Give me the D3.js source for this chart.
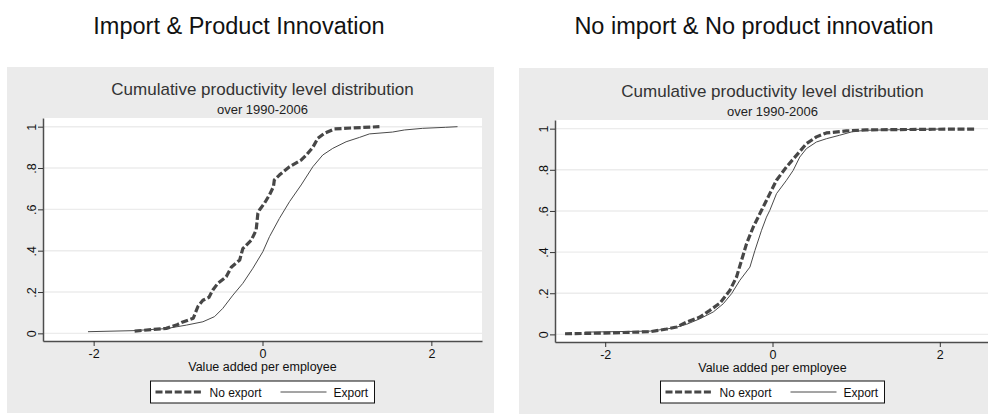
<!DOCTYPE html>
<html>
<head>
<meta charset="utf-8">
<script src="https://cdn.jsdelivr.net/npm/d3@7"></script>
<style>
  body { margin: 0; background: #ffffff; }
  text { font-family: "Liberation Sans", Arial, Helvetica, sans-serif; }
</style>
</head>
<body>
<svg id="chart" width="988" height="414"></svg>
<script>
// ---- data -------------------------------------------------------------
const groupTitles = ["Import & Product Innovation", "No import & No product innovation"];
const chartTitle = "Cumulative productivity level distribution";
const chartSubtitle = "over 1990-2006";
const xAxisTitle = "Value added per employee";
const seriesNames = ["No export", "Export"];
const xTicks = [-2, 0, 2];
const xTickLabels = ["-2", "0", "2"];
const yTicks = [0, 0.2, 0.4, 0.6, 0.8, 1];
const yTickLabels = ["0", ".2", ".4", ".6", ".8", "1"];

// cumulative share of firms at each (log) value added per employee
const importNoExport = [[-1.515,0.011],[-1.14,0.024],[-1.02,0.04],[-0.96,0.052],[-0.82,0.073],[-0.765,0.13],[-0.706,0.16],[-0.635,0.174],[-0.588,0.21],[-0.529,0.242],[-0.43,0.274],[-0.37,0.32],[-0.27,0.355],[-0.233,0.41],[-0.134,0.45],[-0.075,0.5],[-0.055,0.58],[-0.036,0.597],[0.024,0.63],[0.083,0.67],[0.13,0.71],[0.14,0.742],[0.2,0.766],[0.32,0.806],[0.46,0.839],[0.52,0.863],[0.596,0.9],[0.655,0.944],[0.734,0.968],[0.852,0.989],[1.07,0.994],[1.385,1.0]];
const importExport = [[-2.067,0.008],[-1.534,0.013],[-1.14,0.023],[-0.9,0.04],[-0.706,0.056],[-0.568,0.081],[-0.47,0.121],[-0.35,0.185],[-0.233,0.242],[-0.114,0.315],[0.004,0.395],[0.083,0.468],[0.2,0.556],[0.32,0.637],[0.458,0.718],[0.596,0.806],[0.714,0.863],[0.832,0.895],[0.99,0.927],[1.148,0.948],[1.266,0.965],[1.54,0.974],[1.68,0.984],[1.897,0.992],[2.17,0.997],[2.31,1.0]];
const noImportNoExport = [[-2.48,0.003],[-2.06,0.006],[-1.46,0.013],[-1.265,0.026],[-1.146,0.036],[-1.026,0.06],[-0.868,0.084],[-0.748,0.117],[-0.628,0.152],[-0.51,0.214],[-0.43,0.279],[-0.37,0.36],[-0.31,0.441],[-0.23,0.522],[-0.131,0.603],[-0.032,0.684],[0.048,0.749],[0.167,0.814],[0.286,0.87],[0.406,0.927],[0.525,0.96],[0.644,0.979],[0.883,0.989],[1.12,0.994],[1.917,0.997],[2.43,0.998]];
const noImportExport = [[-2.24,0.011],[-1.46,0.016],[-1.185,0.031],[-1.026,0.049],[-0.868,0.076],[-0.708,0.109],[-0.588,0.149],[-0.489,0.198],[-0.39,0.263],[-0.27,0.327],[-0.21,0.408],[-0.131,0.506],[-0.072,0.57],[-0.032,0.603],[0.048,0.684],[0.167,0.749],[0.247,0.797],[0.326,0.862],[0.406,0.903],[0.525,0.935],[0.644,0.951],[0.803,0.968],[0.962,0.986],[1.12,0.992],[1.52,0.995],[2.0,0.998]];

const panelSeries = [
  [importNoExport, importExport],
  [noImportNoExport, noImportExport]
];

// ---- layout -----------------------------------------------------------
const panels = [
  { titleX: 239, gx: 7,   gy: 67, gw: 487, gh: 346, px0: 43,  px1: 482, py0: 118, py1: 341 },
  { titleX: 754, gx: 519, gy: 68, gw: 487, gh: 346, px0: 555, px1: 990, py0: 120, py1: 342 }
];

const xDomain = [-2.6, 2.6];
const yDomain = [-0.037, 1.042];
const lineStyles = [
  { stroke: "#474747", width: 3.2, dash: "7,2.6" },
  { stroke: "#4a4a4a", width: 1, dash: null }
];

const svg = d3.select("#chart");
svg.append("rect").attr("width", 988).attr("height", 414).attr("fill", "#ffffff");

panels.forEach((p, i) => {
  const g = svg.append("g");

  // outer group heading
  g.append("text")
    .attr("x", p.titleX).attr("y", 34)
    .attr("text-anchor", "middle")
    .attr("font-size", 23.5)
    .attr("fill", "#111")
    .text(groupTitles[i]);

  // graph region
  g.append("rect")
    .attr("x", p.gx).attr("y", p.gy).attr("width", p.gw).attr("height", p.gh)
    .attr("fill", "#ebebeb");

  // plot region
  g.append("rect")
    .attr("x", p.px0).attr("y", p.py0)
    .attr("width", p.px1 - p.px0).attr("height", p.py1 - p.py0)
    .attr("fill", "#ffffff");

  const x = d3.scaleLinear().domain(xDomain).range([p.px0, p.px1]);
  const y = d3.scaleLinear().domain(yDomain).range([p.py1, p.py0]);
  const cx = (p.px0 + p.px1) / 2;

  // titles
  g.append("text")
    .attr("x", cx).attr("y", p.py0 - 23)
    .attr("text-anchor", "middle").attr("font-size", 17).attr("fill", "#333")
    .text(chartTitle);
  g.append("text")
    .attr("x", cx).attr("y", p.py0 - 4)
    .attr("text-anchor", "middle").attr("font-size", 13).attr("fill", "#222")
    .text(chartSubtitle);

  // horizontal grid
  g.append("g").selectAll("line").data(yTicks).join("line")
    .attr("x1", p.px0).attr("x2", p.px1)
    .attr("y1", d => y(d)).attr("y2", d => y(d))
    .attr("stroke", "#ececec").attr("stroke-width", 1.4);

  // curves
  panelSeries[i].forEach((series, k) => {
    const st = lineStyles[k];
    g.append("path")
      .datum(series)
      .attr("d", d3.line().x(d => x(d[0])).y(d => y(d[1])))
      .attr("fill", "none")
      .attr("stroke", st.stroke)
      .attr("stroke-width", st.width)
      .attr("stroke-dasharray", st.dash)
      .attr("stroke-linejoin", "round");
  });

  // x axis
  const xAxis = d3.axisBottom(x).tickValues(xTicks)
    .tickFormat((d, j) => xTickLabels[j]).tickSize(5).tickSizeOuter(0).tickPadding(3);
  const gx = g.append("g").attr("transform", `translate(0,${p.py1})`).call(xAxis);
  gx.select(".domain").attr("stroke", "#4d4d4d").attr("stroke-width", 1.5);
  gx.selectAll(".tick line").attr("stroke", "#333").attr("stroke-width", 1);
  gx.selectAll(".tick text").attr("font-size", 12.5).attr("fill", "#111")
    .attr("font-family", "Liberation Sans, Arial, sans-serif");

  // y axis
  const yAxis = d3.axisLeft(y).tickValues(yTicks)
    .tickFormat((d, j) => yTickLabels[j]).tickSize(5).tickSizeOuter(0);
  const gy = g.append("g").attr("transform", `translate(${p.px0},0)`).call(yAxis);
  gy.select(".domain").attr("stroke", "#4d4d4d").attr("stroke-width", 1.5);
  gy.selectAll(".tick line").attr("stroke", "#333").attr("stroke-width", 1);
  gy.selectAll(".tick text")
    .attr("font-size", 12.5).attr("fill", "#111")
    .attr("font-family", "Liberation Sans, Arial, sans-serif")
    .attr("x", null).attr("dy", null)
    .attr("text-anchor", "middle")
    .attr("transform", "translate(-7,0) rotate(-90)");

  // x axis title
  g.append("text")
    .attr("x", cx).attr("y", p.py1 + 29.5)
    .attr("text-anchor", "middle").attr("font-size", 12.5).attr("fill", "#111")
    .text(xAxisTitle);

  // legend
  const lw = 224, lh = 22;
  const lx = cx - lw / 2, ly = 381;
  const lg = g.append("g").attr("transform", `translate(${lx},${ly})`);
  lg.append("rect").attr("width", lw).attr("height", lh)
    .attr("fill", "#fff").attr("stroke", "#111").attr("stroke-width", 1);
  const items = [
    { x1: 5, x2: 52, tx: 59 },
    { x1: 130, x2: 176, tx: 183 }
  ];
  items.forEach((it, k) => {
    const st = lineStyles[k];
    lg.append("line")
      .attr("x1", it.x1).attr("x2", it.x2).attr("y1", lh / 2).attr("y2", lh / 2)
      .attr("stroke", st.stroke).attr("stroke-width", st.width)
      .attr("stroke-dasharray", st.dash);
    lg.append("text")
      .attr("x", it.tx).attr("y", lh / 2 + 4.5)
      .attr("font-size", 12).attr("fill", "#111")
      .text(seriesNames[k]);
  });
});
</script>
</body>
</html>
